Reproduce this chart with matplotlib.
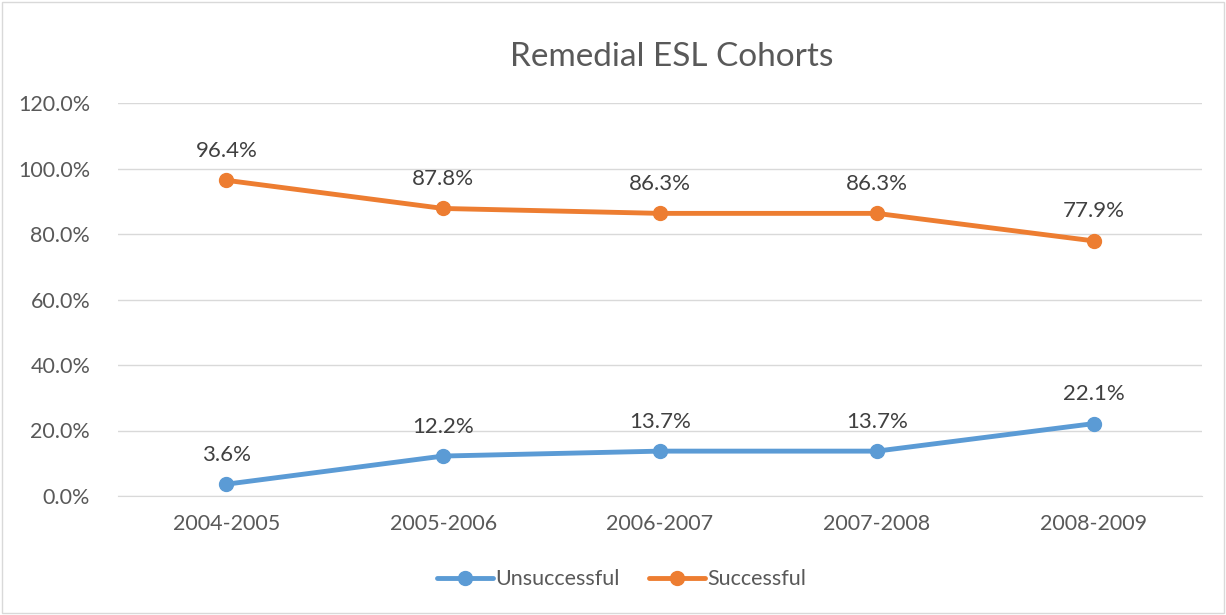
import matplotlib.pyplot as plt
from matplotlib.patches import Rectangle

plt.rcParams['font.family'] = ['Lato', 'DejaVu Sans']

years = ['2004-2005', '2005-2006', '2006-2007', '2007-2008', '2008-2009']
unsuccessful = [3.6, 12.2, 13.7, 13.7, 22.1]
successful = [96.4, 87.8, 86.3, 86.3, 77.9]
y_ticks = [0, 20, 40, 60, 80, 100, 120]

text_color = '#595959'
blue = '#5b9bd5'
orange = '#ed7d31'

fig = plt.figure(figsize=(12.26, 6.15), dpi=100)
ax = fig.add_axes([0.0962, 0.1935, 0.8842, 0.639])

x = range(len(years))
ax.plot(x, unsuccessful, color=blue, lw=3.5, marker='o', ms=10, label='Unsuccessful',
        solid_capstyle='round', zorder=3)
ax.plot(x, successful, color=orange, lw=3.5, marker='o', ms=10, label='Successful',
        solid_capstyle='round', zorder=3)

for xi, v in zip(x, unsuccessful):
    ax.annotate(f'{v:.1f}%', (xi, v), xytext=(0, 14), textcoords='offset points',
                ha='center', va='bottom', fontsize=16, color='#404040')
for xi, v in zip(x, successful):
    ax.annotate(f'{v:.1f}%', (xi, v), xytext=(0, 14), textcoords='offset points',
                ha='center', va='bottom', fontsize=16, color='#404040')

ax.set_xlim(-0.5, len(years) - 0.5)
ax.set_ylim(0, 120)
ax.set_yticks(y_ticks)
ax.set_yticklabels([f'{t:.1f}%' for t in y_ticks])
ax.set_xticks(list(x))
ax.set_xticklabels(years)
ax.grid(axis='y', color='#d9d9d9', lw=1)
ax.set_axisbelow(True)
for s in ['top', 'right', 'left']:
    ax.spines[s].set_visible(False)
ax.spines['bottom'].set_color('#d9d9d9')
ax.tick_params(axis='both', length=0, labelsize=15.5, colors=text_color, pad=13)
ax.tick_params(axis='y', pad=20)

fig.text(0.548, 0.907, 'Remedial ESL Cohorts', ha='center', va='center',
         fontsize=24, color=text_color)

fig.legend(loc='center', bbox_to_anchor=(0.507, 0.058), ncol=2, frameon=False,
           fontsize=15.5, labelcolor=text_color, handlelength=2.6, handletextpad=0.1,
           columnspacing=1.4)

fig.patches.append(Rectangle((0.002, 0.003), 0.996, 0.994, transform=fig.transFigure,
                             fill=False, edgecolor='#d9d9d9', lw=1))

fig.savefig('out.png', dpi=100)
